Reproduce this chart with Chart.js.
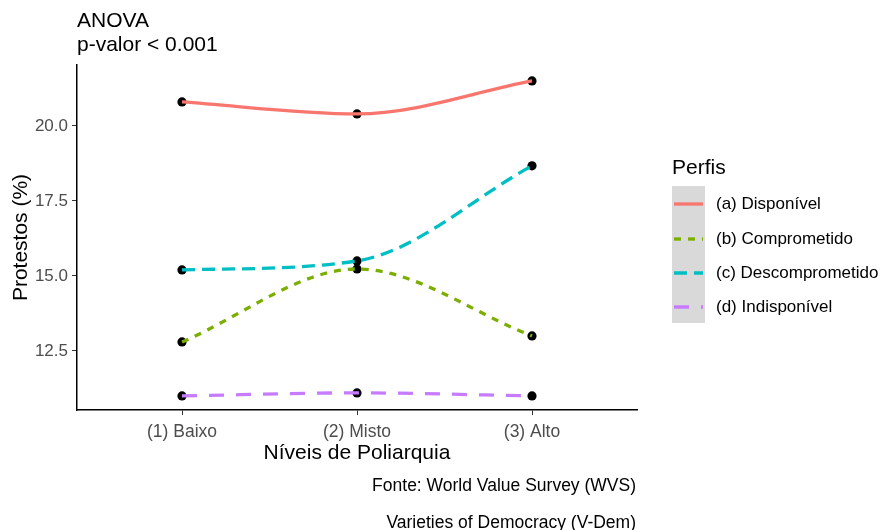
<!DOCTYPE html>
<html>
<head>
<meta charset="utf-8">
<script src="https://cdn.jsdelivr.net/npm/chart.js@4"></script>
<style>
  html, body { margin: 0; padding: 0; background: #fff; }
  #wrap { width: 883px; height: 530px; }
</style>
</head>
<body>
<div id="wrap"><canvas id="lineOptions" width="883" height="530"></canvas></div>
<script>
// categories and values
var categorias = ["(1) Baixo", "(2) Misto", "(3) Alto"];
var disponivel = [20.8, 20.4, 21.5];
var comprometido = [12.8, 15.23, 13.0];
var descomprometido = [15.2, 15.5, 18.67];
var indisponivel = [11.0, 11.1, 11.0];
var yTicks = [12.5, 15.0, 17.5, 20.0];
var perfis = ["(a) Disponível", "(b) Comprometido", "(c) Descomprometido", "(d) Indisponível"];

var FONT = "'Liberation Sans', Arial, sans-serif";

function pts(vals) {
    return vals.map(function (v, i) { return {x: i, y: v}; });
}

var estilos = [
    {color: "#F8766D", dash: []},
    {color: "#7CAE00", dash: [7, 7]},
    {color: "#00BFC4", dash: [13, 7]},
    {color: "#C77CFF", dash: [15, 12]}
];
var series = [disponivel, comprometido, descomprometido, indisponivel];

var datasets = [];
series.forEach(function (s, i) {
    datasets.push({
        label: perfis[i],
        data: pts(s),
        borderColor: estilos[i].color,
        borderWidth: 3.3,
        borderDash: estilos[i].dash,
        pointRadius: 0,
        cubicInterpolationMode: "monotone",
        fill: false,
        order: 0
    });
});
// black points under the lines
series.forEach(function (s, i) {
    datasets.push({
        label: "pontos" + i,
        data: pts(s),
        showLine: false,
        pointRadius: 4.6,
        pointBackgroundColor: "#000",
        pointBorderColor: "#000",
        pointBorderWidth: 0,
        order: 1
    });
});

// title, caption and legend drawn on the canvas
var extras = {
    id: "extras",
    afterDraw: function (chart) {
        var c = chart.ctx;
        c.save();
        c.fillStyle = "#000";
        c.textBaseline = "middle";
        c.textAlign = "left";
        c.font = "21px " + FONT;
        c.fillText("ANOVA", 77, 21);
        c.fillText("p-valor < 0.001", 77, 45);

        c.textAlign = "right";
        c.font = "17.5px " + FONT;
        c.fillText("Fonte: World Value Survey (WVS)", 636, 486);
        c.fillText("Varieties of Democracy (V-Dem)", 636, 523);

        // legend
        c.textAlign = "left";
        c.font = "21px " + FONT;
        c.fillText("Perfis", 672, 168);
        c.fillStyle = "#d9d9d9";
        c.fillRect(672, 186, 33, 137);
        var ys = [204, 239, 273, 307];
        c.font = "17px " + FONT;
        perfis.forEach(function (p, i) {
            c.strokeStyle = estilos[i].color;
            c.lineWidth = 3.3;
            c.setLineDash(estilos[i].dash);
            c.beginPath();
            c.moveTo(674, ys[i]);
            c.lineTo(703, ys[i]);
            c.stroke();
            c.fillStyle = "#000";
            c.fillText(p, 716, ys[i]);
        });
        c.restore();
    }
};

var lineOptions = {
    responsive: false,
    animation: false,
    layout: {padding: {left: 0, right: 246, top: 65, bottom: 0}},
    plugins: {
        legend: {display: false},
        tooltip: {enabled: false}
    },
    scales: {
        x: {
            type: "linear",
            min: -0.6,
            max: 2.6,
            afterBuildTicks: function (scale) {
                scale.ticks = categorias.map(function (c, i) { return {value: i}; });
            },
            afterFit: function (scale) { scale.height = 120; },
            grid: {drawOnChartArea: false, drawTicks: true, tickLength: 5, color: "#333", lineWidth: 1},
            border: {display: true, color: "#000", width: 1.5},
            ticks: {
                padding: 7,
                color: "#4d4d4d",
                font: {family: FONT, size: 17.5},
                callback: function (v) { return categorias[v]; }
            },
            title: {
                display: true,
                text: "Níveis de Poliarquia",
                color: "#000",
                font: {family: FONT, size: 21},
                padding: {top: 0, bottom: 64}
            }
        },
        y: {
            type: "linear",
            min: 10.53,
            max: 22.03,
            afterBuildTicks: function (scale) {
                scale.ticks = yTicks.map(function (v) { return {value: v}; });
            },
            afterFit: function (scale) { scale.width = 77; },
            grid: {drawOnChartArea: false, drawTicks: true, tickLength: 5, color: "#333", lineWidth: 1},
            border: {display: true, color: "#000", width: 1.5},
            ticks: {
                padding: 4,
                color: "#4d4d4d",
                font: {family: FONT, size: 17},
                callback: function (v) { return v.toFixed(1); }
            },
            title: {
                display: true,
                text: "Protestos (%)",
                color: "#000",
                font: {family: FONT, size: 21},
                padding: {top: 9, bottom: 0}
            }
        }
    }
};

var ctx = document.getElementById("lineOptions").getContext("2d");
new Chart(ctx, {type: "line", data: {datasets: datasets}, options: lineOptions, plugins: [extras]});
</script>
</body>
</html>
